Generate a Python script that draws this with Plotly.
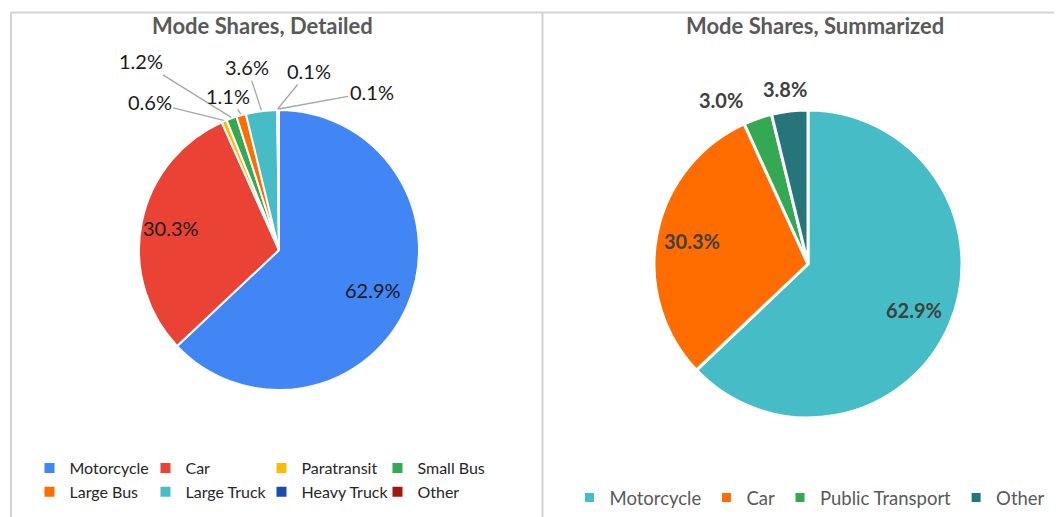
import math
import plotly.graph_objects as go

# ---- data ----
detailed_labels = ["Motorcycle", "Car", "Paratransit", "Small Bus",
                   "Large Bus", "Large Truck", "Heavy Truck", "Other"]
detailed_values = [62.9, 30.3, 0.6, 1.2, 1.1, 3.6, 0.1, 0.1]
detailed_colors = ["#4285F4", "#EA4335", "#FBBC04", "#34A853",
                   "#FF6D01", "#46BDC6", "#1A4BAE", "#A1190D"]

summary_labels = ["Motorcycle", "Car", "Public Transport", "Other"]
summary_values = [62.9, 30.3, 3.0, 3.8]
summary_colors = ["#46BDC6", "#FF6D01", "#34A853", "#25757B"]

titles = ["Mode Shares, Detailed", "Mode Shares, Summarized"]

# label placement: a number = inside, at that fraction of the radius along
# the slice's mid-angle; a pair = (dx, dy) px offset from the slice's edge
detailed_label_pos = [0.73, 0.79, (-74, -18), (-90, -56), (-13, -18),
                      (-14, -43), (31, -38), (93, -17)]
summary_label_pos = [0.75, 0.77, (-36, -18), (-5, -21)]

# ---- layout geometry (pixels, figure coordinates) ----
W, H = 1054, 509
ML, MR, MT, MB = 22, 0, 0, 0
PW, PH = W - ML - MR, H - MT - MB


def px(x):
    return (x - ML) / PW


def py(y):
    return (H - MB - y) / PH


def dom(cx, cy, r):
    return dict(x=[px(cx - r), px(cx + r)], y=[py(cy + r), py(cy - r)])


FONT = "Lato, 'Open Sans', sans-serif"

LEFT = dict(cx=271, cy=242, r=140)
RIGHT = dict(cx=800, cy=256, r=154)

fig = go.Figure()

fig.add_trace(go.Pie(
    labels=detailed_labels, values=detailed_values,
    marker=dict(colors=detailed_colors, line=dict(color="white", width=2)),
    sort=False, direction="clockwise", rotation=0, textinfo="none",
    domain=dom(**LEFT), legend="legend", legendgroup="detailed",
    hoverinfo="label+value",
))

fig.add_trace(go.Pie(
    labels=summary_labels, values=summary_values,
    marker=dict(colors=summary_colors, line=dict(color="white", width=3)),
    sort=False, direction="clockwise", rotation=0, textinfo="none",
    domain=dom(**RIGHT), legend="legend2", legendgroup="summary",
    hoverinfo="label+value",
))


def slice_labels(values, positions, geo, fmt, font, line_color):
    total = sum(values)
    anns = []
    cum = 0.0
    for v, pos in zip(values, positions):
        mid = (cum + v / 2) / total * 2 * math.pi
        cum += v
        s, c = math.sin(mid), math.cos(mid)
        txt = fmt.format(v)
        if not isinstance(pos, tuple):
            x = geo["cx"] + pos * geo["r"] * s
            y = geo["cy"] - pos * geo["r"] * c
            anns.append(dict(text=txt, x=px(x), y=py(y), xref="paper",
                             yref="paper", showarrow=False, xanchor="center",
                             yanchor="middle", font=font))
        else:
            ex = geo["cx"] + (geo["r"] + 1) * s
            ey = geo["cy"] - (geo["r"] + 1) * c
            if line_color:
                anns.append(dict(text=txt, x=px(ex), y=py(ey), xref="paper",
                                 yref="paper", showarrow=True, arrowhead=0,
                                 arrowwidth=1.3, arrowcolor=line_color,
                                 standoff=0, ax=pos[0], ay=pos[1], font=font))
            else:
                anns.append(dict(text=txt, x=px(ex), y=py(ey), xref="paper",
                                 yref="paper", showarrow=False,
                                 xanchor="center", yanchor="middle",
                                 xshift=pos[0], yshift=-pos[1], font=font))
    return anns


annotations = []
annotations += slice_labels(detailed_values, detailed_label_pos, LEFT,
                            "{:.1f}%",
                            dict(family=FONT, size=20, color="#1a1a1a"),
                            "#A6A6A6")
annotations += slice_labels(summary_values, summary_label_pos, RIGHT,
                            "<b>{:.1f}%</b>",
                            dict(family=FONT, size=20, color="#404040"),
                            None)

annotations += [
    dict(text="<b>" + titles[0] + "</b>", x=px(254), y=py(17), xref="paper",
         yref="paper", showarrow=False, xanchor="center", yanchor="middle",
         font=dict(family=FONT, size=22, color="#595959")),
    dict(text="<b>" + titles[1] + "</b>", x=px(807), y=py(17), xref="paper",
         yref="paper", showarrow=False, xanchor="center", yanchor="middle",
         font=dict(family=FONT, size=22, color="#595959")),
]

border = dict(color="#D4D4D4", width=2)
shapes = [
    dict(type="line", xref="paper", yref="paper", x0=px(2), x1=px(W),
         y0=py(4.5), y1=py(4.5), line=border),
    dict(type="line", xref="paper", yref="paper", x0=px(3), x1=px(3),
         y0=py(4), y1=py(H), line=border),
    dict(type="line", xref="paper", yref="paper", x0=px(534.5), x1=px(534.5),
         y0=py(4), y1=py(H), line=border),
]

fig.update_layout(
    width=W, height=H,
    margin=dict(l=ML, r=MR, t=MT, b=MB, autoexpand=False),
    paper_bgcolor="white", plot_bgcolor="white",
    font=dict(family=FONT, color="#404040"),
    shapes=shapes, annotations=annotations,
    legend=dict(orientation="h", traceorder="normal", x=-0.0005,
                xanchor="left", y=py(443), yanchor="top", entrywidth=71,
                entrywidthmode="pixels",
                font=dict(family=FONT, size=16, color="#262626"),
                bgcolor="rgba(0,0,0,0)"),
    legend2=dict(orientation="h", traceorder="normal", x=px(802),
                 xanchor="center", y=py(471), yanchor="top",
                 font=dict(family=FONT, size=18.5, color="#595959"),
                 bgcolor="rgba(0,0,0,0)"),
)

fig.write_html("out.html")
